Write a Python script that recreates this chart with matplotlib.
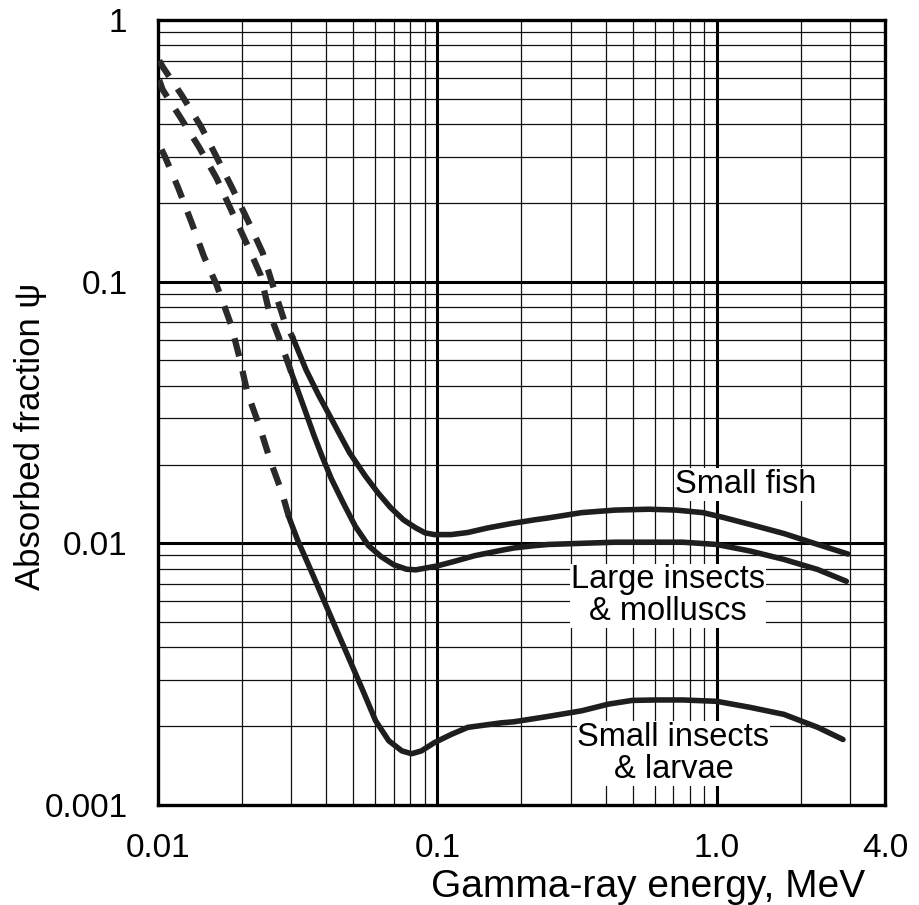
import numpy as np
import matplotlib
matplotlib.use("Agg")
import matplotlib.pyplot as plt
from matplotlib.ticker import LogLocator, NullFormatter, FixedLocator, FixedFormatter

plt.rcParams['font.family'] = ['Liberation Sans', 'DejaVu Sans']

# energies (MeV) and absorbed fractions
# dashed parts (low energy) and solid parts of each curve
fish_dash_x = [0.0101, 0.0104, 0.01215, 0.01427, 0.0162, 0.0184, 0.0211, 0.0237, 0.0260, 0.0284, 0.0305]
fish_dash_y = [0.70, 0.662, 0.517, 0.391, 0.300, 0.229, 0.169, 0.129, 0.094, 0.0703, 0.0605]
fish_x = [0.0305, 0.0339, 0.0375, 0.0417, 0.0446, 0.0485, 0.0552, 0.0613, 0.068, 0.0756,
          0.0838, 0.0905, 0.0975, 0.112, 0.1285, 0.1514, 0.1837, 0.223, 0.249, 0.328,
          0.434, 0.572, 0.715, 0.893, 1.055, 1.32, 1.74, 2.30, 2.95]
fish_y = [0.0605, 0.046, 0.037, 0.0300, 0.0262, 0.0222, 0.0181, 0.0156, 0.0137, 0.0123,
          0.01145, 0.01096, 0.0108, 0.0108, 0.0110, 0.01145, 0.0119, 0.0123, 0.0125, 0.0131,
          0.0134, 0.0135, 0.0134, 0.0131, 0.01256, 0.0118, 0.0109, 0.0099, 0.0091]

large_dash_x = [0.0101, 0.0104, 0.0120, 0.0140, 0.0162, 0.0184, 0.0209, 0.0233, 0.0250, 0.0277, 0.0300]
large_dash_y = [0.59, 0.541, 0.426, 0.328, 0.249, 0.185, 0.138, 0.106, 0.0767, 0.0574, 0.045]
large_x = [0.030, 0.033, 0.0362, 0.0386, 0.0418, 0.046, 0.0509, 0.0567, 0.0629, 0.0698,
           0.0776, 0.0838, 0.0905, 0.100, 0.115, 0.136, 0.169, 0.188, 0.223, 0.249,
           0.328, 0.434, 0.572, 0.755, 1.0, 1.32, 1.74, 2.30, 2.91]
large_y = [0.045, 0.034, 0.0258, 0.0216, 0.0176, 0.0143, 0.0116, 0.0098, 0.0089, 0.00828,
           0.00796, 0.00792, 0.00804, 0.0082, 0.00853, 0.00897, 0.0094, 0.0096, 0.0098, 0.0099,
           0.0100, 0.0101, 0.0101, 0.0101, 0.0099, 0.00934, 0.00868, 0.00794, 0.00716]

small_dash_x = [0.0103, 0.0106, 0.0118, 0.0132, 0.0146, 0.0162, 0.0183, 0.0196, 0.0209, 0.0232, 0.0252, 0.0278, 0.0295]
small_dash_y = [0.32, 0.300, 0.229, 0.168, 0.125, 0.0974, 0.068, 0.051, 0.0376, 0.0276, 0.0208, 0.0156, 0.0125]
small_x = [0.0295, 0.0316, 0.0352, 0.0392, 0.0436, 0.0486, 0.0541, 0.0601, 0.0670, 0.0746,
           0.0809, 0.0877, 0.0975, 0.112, 0.1285, 0.169, 0.188, 0.223, 0.249, 0.328,
           0.41, 0.498, 0.605, 0.755, 1.0, 1.32, 1.74, 2.30, 2.83]
small_y = [0.0125, 0.0103, 0.00792, 0.00607, 0.00466, 0.00357, 0.00274, 0.0021, 0.00176, 0.00161,
           0.00157, 0.00161, 0.00173, 0.00186, 0.00198, 0.00206, 0.00208, 0.00214, 0.00218, 0.00229,
           0.00243, 0.00251, 0.00252, 0.00252, 0.00249, 0.00236, 0.00222, 0.00198, 0.00178]

x_ticks = [0.01, 0.1, 1.0, 4.0]
x_ticklabels = ['0.01', '0.1', '1.0', '4.0']
y_ticks = [0.001, 0.01, 0.1, 1]
y_ticklabels = ['0.001', '0.01', '0.1', '1']

fig = plt.figure(figsize=(9.2, 9.05), dpi=100)
ax = fig.add_axes([0.1717, 0.1105, 0.7902, 0.8674])
ax.set_xscale('log')
ax.set_yscale('log')
ax.set_xlim(0.01, 4.0)
ax.set_ylim(0.001, 1)

# graph paper grid
ax.xaxis.set_minor_locator(LogLocator(base=10, subs=np.arange(2, 10)))
ax.yaxis.set_minor_locator(LogLocator(base=10, subs=np.arange(2, 10)))
ax.xaxis.set_minor_formatter(NullFormatter())
ax.yaxis.set_minor_formatter(NullFormatter())
ax.grid(which='minor', color='#111111', linewidth=0.9)
for v in [0.1, 1.0]:
    ax.axvline(v, color='black', linewidth=2.2, zorder=1)
for v in [0.1, 0.01]:
    ax.axhline(v, color='black', linewidth=2.2, zorder=1)

ax.xaxis.set_major_locator(FixedLocator(x_ticks))
ax.xaxis.set_major_formatter(FixedFormatter(x_ticklabels))
ax.yaxis.set_major_locator(FixedLocator(y_ticks))
ax.yaxis.set_major_formatter(FixedFormatter(y_ticklabels))
ax.tick_params(which='both', length=0)
ax.tick_params(axis='x', labelsize=24, pad=20)
ax.tick_params(axis='y', labelsize=24, pad=22)

for s in ax.spines.values():
    s.set_linewidth(2.4)
    s.set_color('black')

# curves
dash_kw = dict(color='#2a2a2a', linewidth=4.5, dashes=(3.0, 2.4), zorder=3)
solid_kw = dict(color='#1e1e1e', linewidth=4.0, solid_capstyle='round',
                solid_joinstyle='round', zorder=3)
ax.plot(fish_dash_x, fish_dash_y, **dash_kw)
ax.plot(large_dash_x, large_dash_y, **dash_kw)
ax.plot(small_dash_x, small_dash_y, **dash_kw)
ax.plot(fish_x, fish_y, **solid_kw)
ax.plot(large_x, large_y, **solid_kw)
ax.plot(small_x, small_y, **solid_kw)

bg = dict(facecolor='white', edgecolor='none', pad=0.5)
ax.text(1.27, 0.0168, 'Small fish', fontsize=23.5, ha='center', va='center', bbox=bg, zorder=4)
ax.text(0.67, 0.0063, 'Large insects\n& molluscs', fontsize=23.5, ha='center', va='center',
        linespacing=1.05, bbox=bg, zorder=4)
ax.text(0.70, 0.00157, 'Small insects\n& larvae', fontsize=23.5, ha='center', va='center',
        linespacing=1.05, bbox=bg, zorder=4)

ax.set_xlabel('Gamma-ray energy, MeV', fontsize=28)
ax.xaxis.set_label_coords(0.674, -0.105)
ax.xaxis.label.set_verticalalignment('center')
ax.set_ylabel('Absorbed fraction \u03c8', fontsize=25)
ax.yaxis.set_label_coords(-0.176, 0.47)
ax.yaxis.label.set_verticalalignment('center')

fig.savefig('out.png', dpi=100)
